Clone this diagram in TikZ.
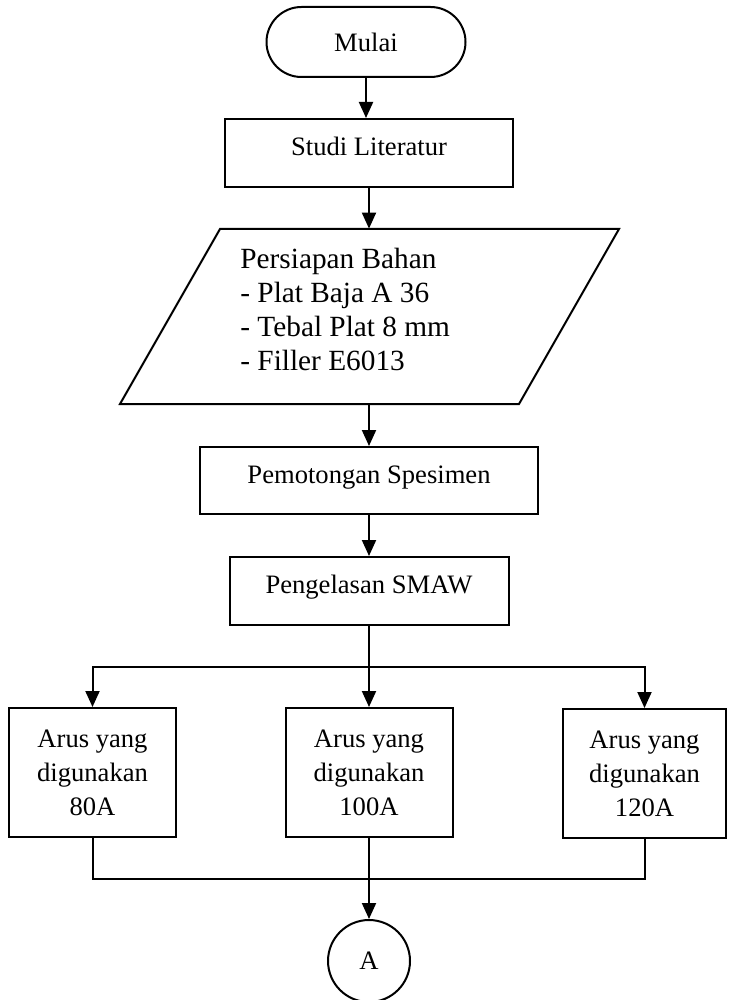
\documentclass[tikz,border=0pt]{standalone}
\usepackage{fontspec}
\setmainfont{Liberation Serif}
\usetikzlibrary{arrows.meta}
\begin{document}
\begin{tikzpicture}[x=0.5pt,y=-0.5pt,
  line/.style={line width=1pt},
  arr/.style={line width=1pt,-{Triangle[width=7pt,length=8pt]}},
  boxfont/.style={font=\fontsize{13.3}{17}\selectfont},
  proc/.style={draw,line width=1pt,boxfont,inner sep=0pt,text height=8pt,text depth=5.5pt},
  arus/.style={draw,line width=1pt,boxfont,inner sep=0pt,align=center,minimum width=83.5pt,minimum height=64.5pt},
  term/.style={draw,line width=1pt,boxfont,inner sep=0pt,rounded corners=17.5pt,minimum width=99.5pt,minimum height=35pt,text height=10pt,text depth=0pt},
  conn/.style={draw,circle,line width=1pt,boxfont,inner sep=0pt,minimum size=41pt}
]
\useasboundingbox (0,0) rectangle (730,1000);

\node[term] (mulai) at (366,42) {Mulai};
\node[proc,minimum width=144pt,minimum height=34pt] (studi) at (369,153) {Studi Literatur};

% parallelogram (input/output)
\node[inner sep=0pt,minimum width=150pt,minimum height=87.5pt] (bahan) at (369,316.5) {};
\draw[line] (220,229) -- (619,229) -- (519,404) -- (120,404) -- cycle;
\node[anchor=north west,inner sep=0pt,align=left,font=\fontsize{14.65}{17}\selectfont] (bahantext) at (240,248)
  {Persiapan Bahan\\- Plat Baja A 36\\- Tebal Plat 8 mm\\- Filler E6013};

\node[proc,minimum width=169pt,minimum height=33.5pt] (pem) at (369,480.5) {Pemotongan Spesimen};
\node[proc,minimum width=139.5pt,minimum height=34pt] (peng) at (369,591) {Pengelasan SMAW};

\node[arus] (a1) at (92.5,772.5) {Arus yang\\digunakan\\80A};
\node[arus] (a2) at (369,772.5) {Arus yang\\digunakan\\100A};
\node[arus,minimum width=81.5pt] (a3) at (644.5,773.5) {Arus yang\\digunakan\\120A};

\node[conn] (circA) at (369,961) {A};

\coordinate (split) at (369,667);
\coordinate (join) at (369,879);

\draw[arr] (mulai.south) -- (mulai.south |- studi.north);
\draw[arr] (studi.south) -- (bahan.north);
\draw[arr] (bahan.south) -- (pem.north);
\draw[arr] (pem.south) -- (peng.north);
\draw[line] (peng.south) -- (split);
\draw[arr] (split) -| (a1.north);
\draw[arr] (split) -| (a3.north);
\draw[arr] (split) -- (a2.north);
\draw[line] (a1.south) |- (join);
\draw[line] (a3.south) |- (join);
\draw[line] (a2.south) -- (join);
\draw[arr] (join) -- (circA.north);
\end{tikzpicture}
\end{document}
